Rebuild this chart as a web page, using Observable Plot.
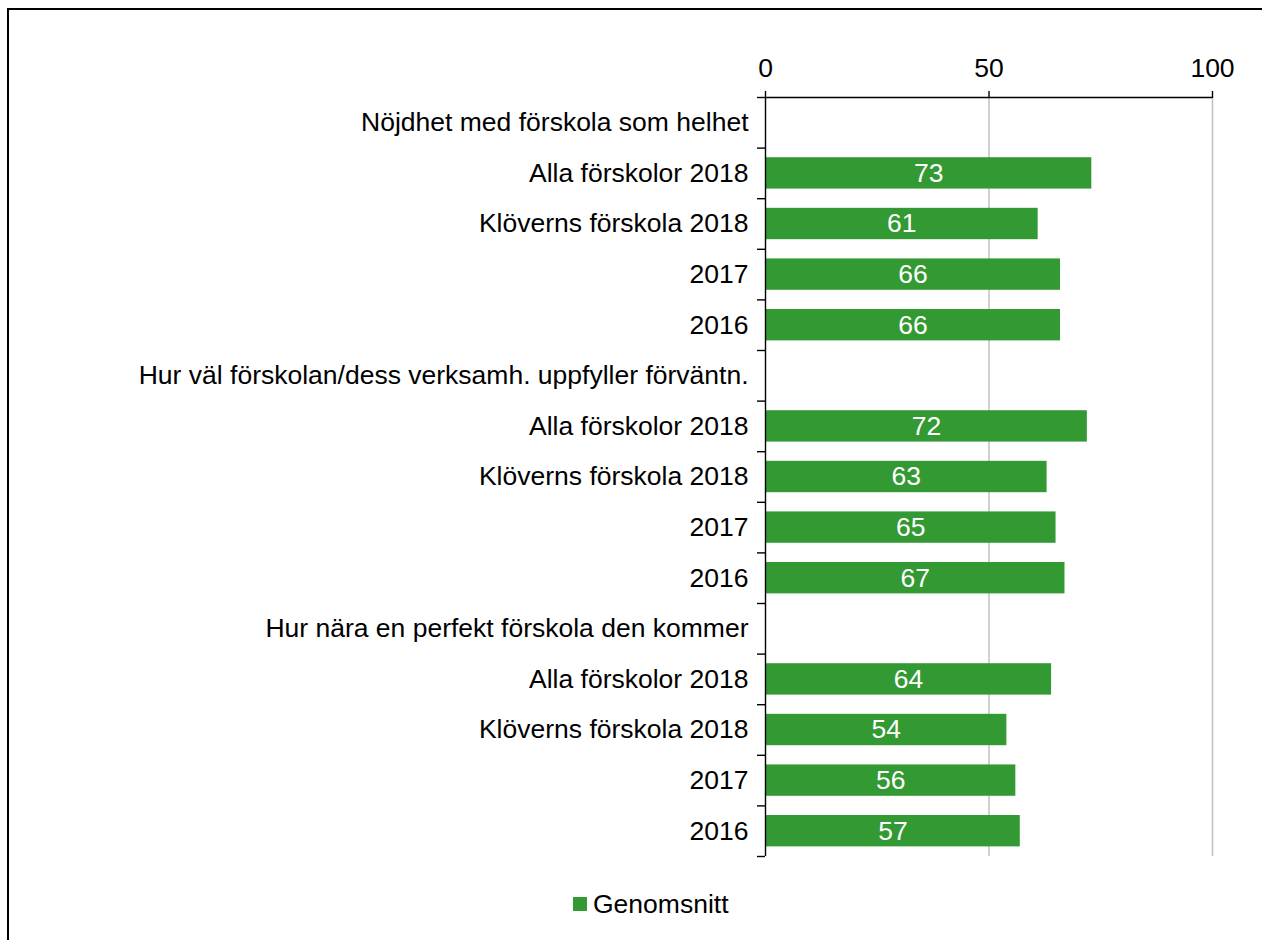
<!DOCTYPE html>
<html><head><meta charset="utf-8">
<script src="https://cdn.jsdelivr.net/npm/d3@7"></script>
<script src="https://cdn.jsdelivr.net/npm/@observablehq/plot@0.6"></script>
<style>
body{margin:0;background:#fff;font-family:"Liberation Sans",Arial,sans-serif;overflow:hidden;}
#frame{position:absolute;left:7px;top:8px;width:1400px;height:1100px;border-left:2px solid #000;border-top:2px solid #000;}
#chart{position:absolute;left:0;top:0;}
#legend{position:absolute;top:889px;left:573px;font-size:26.5px;line-height:30px;display:flex;align-items:center;color:#000;}
#legend .sw{width:14px;height:14px;background:#339933;margin-right:6px;}
</style></head><body>
<div id="frame"></div>
<div id="chart"></div>
<div id="legend"><span class="sw"></span><span id="legtext"></span></div>
<script>
const categories = [
  "Nöjdhet med förskola som helhet",
  "Alla förskolor 2018",
  "Klöverns förskola 2018",
  "2017",
  "2016",
  "Hur väl förskolan/dess verksamh. uppfyller förväntn.",
  "Alla förskolor 2018",
  "Klöverns förskola 2018",
  "2017",
  "2016",
  "Hur nära en perfekt förskola den kommer",
  "Alla förskolor 2018",
  "Klöverns förskola 2018",
  "2017",
  "2016"
];
const values = [null, 73, 61, 66, 66, null, 72, 63, 65, 67, null, 64, 54, 56, 57];
const xTicks = [0, 50, 100];
const seriesName = "Genomsnitt";

const rows = categories.map((label, i) => ({i, label, value: values[i]}));
const bars = rows.filter(d => d.value != null);
const n = categories.length;
const pad = 0.19;
const fs = 26.5;

document.getElementById("legtext").textContent = seriesName;

const chart = Plot.plot({
  width: 1262,
  height: 900,
  marginTop: 97,
  marginBottom: 44,
  marginLeft: 765,
  marginRight: 50,
  style: {fontFamily: '"Liberation Sans", Arial, sans-serif', background: "transparent", overflow: "visible"},
  x: {domain: [0, 100], label: null},
  y: {domain: [0, n], reverse: true, label: null},
  marks: [
    Plot.ruleX(xTicks.filter(t => t > 0), {stroke: "#c0c0c0", strokeWidth: 1.5}),
    Plot.rectX(bars, {x: "value", y1: d => d.i + pad, y2: d => d.i + 1 - pad, fill: "#339933"}),
    Plot.text(bars, {x: d => d.value / 2, y: d => d.i + 0.5, text: d => String(d.value), fill: "white", fontSize: fs}),
    Plot.text(rows, {x: 0, y: d => d.i + 0.5, text: "label", textAnchor: "end", dx: -17, fontSize: fs, fill: "black"}),
    Plot.axisY({ticks: d3.range(n + 1), tickSize: 8, tickFormat: () => "", stroke: "black", strokeWidth: 1.4, label: null}),
    Plot.ruleX([0], {stroke: "black", strokeWidth: 1.4}),
    Plot.ruleY([0], {stroke: "black", strokeWidth: 1.4}),
    Plot.axisX({anchor: "top", ticks: xTicks, tickSize: 7, tickPadding: 14, fontSize: fs, stroke: "black", strokeWidth: 1.4, fill: "black", label: null})
  ]
});
document.getElementById("chart").appendChild(chart);
</script>
</body></html>
